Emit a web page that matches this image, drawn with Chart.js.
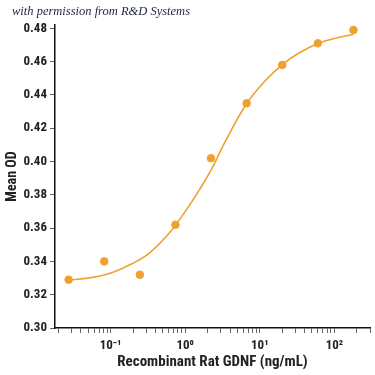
<!DOCTYPE html>
<html>
<head>
<meta charset="utf-8">
<script src="https://cdn.jsdelivr.net/npm/chart.js@4"></script>
<style>
  body { margin: 0; background: #fff; }
  #wrap { position: relative; width: 375px; height: 375px; }
  #credit {
    position: absolute; left: 12px; top: 4px;
    font: italic 12.5px "Liberation Serif", serif;
    color: #1c2440; white-space: nowrap;
  }
</style>
</head>
<body>
<div id="wrap">
  <canvas id="chart" width="375" height="375"></canvas>
  <div id="credit">with permission from R&amp;D Systems</div>
</div>
<script>
// measured points (ng/mL, mean OD)
const conc = [0.0274, 0.0823, 0.247, 0.741, 2.22, 6.67, 20, 60, 180];
const meanOD = [0.329, 0.340, 0.332, 0.362, 0.402, 0.435, 0.458, 0.471, 0.479];

// fitted curve
const fitConc = [0.0275, 0.0575, 0.106, 0.196, 0.331, 0.612, 1.03, 1.54, 2.22, 3.52, 6.71, 12.0, 20.3, 33.1, 61.2, 103, 179];
const fitOD = [0.3288, 0.3304, 0.3334, 0.3387, 0.345, 0.357, 0.3708, 0.3828, 0.3948, 0.4128, 0.435, 0.4488, 0.4584, 0.465, 0.471, 0.474, 0.4764];

// axis ticks
const yTicks = [0.30, 0.32, 0.34, 0.36, 0.38, 0.40, 0.42, 0.44, 0.46, 0.48];
const xMajor = [0.1, 1, 10, 100];
const xMajorLabels = ["10\u207B\u00B9", "10\u2070", "10\u00B9", "10\u00B2"];
const xDecades = [0.01, 0.1, 1, 10, 100];

const orange = "#F0A030";
const axisFont = "'Liberation Sans Narrow', 'Roboto Condensed', 'Liberation Sans', sans-serif";

var xTickValues = [];
xDecades.forEach(function (d) {
  for (var m = 1; m <= 9; m++) {
    var v = parseFloat((m * d).toPrecision(3));
    if (v >= 0.02 && v <= 300) xTickValues.push(v);
  }
});

var ctx = document.getElementById("chart").getContext("2d");
new Chart(ctx, {
  type: "scatter",
  data: {
    datasets: [
      {
        label: "fit",
        data: fitConc.map((c, i) => ({ x: c, y: fitOD[i] })),
        showLine: true,
        borderColor: orange,
        borderWidth: 1.6,
        pointRadius: 0,
        tension: 0.4,
        fill: false,
      },
      {
        label: "Mean OD",
        data: conc.map((c, i) => ({ x: c, y: meanOD[i] })),
        backgroundColor: orange,
        borderColor: orange,
        pointRadius: 3.8,
        showLine: false,
      },
    ],
  },
  options: {
    responsive: false,
    animation: false,
    layout: { padding: { top: 25, right: 3, left: 0, bottom: 0 } },
    plugins: {
      legend: { display: false },
      tooltip: { enabled: false },
    },
    scales: {
      x: {
        type: "logarithmic",
        min: 0.018,
        max: 300,
        afterBuildTicks: (s) => { s.ticks = xTickValues.map((v) => ({ value: v })); },
        afterFit: (s) => { s.height = 47; },
        grid: { drawOnChartArea: false, tickLength: 5, color: "#666", lineWidth: 1 },
        border: { display: true, color: "#111", width: 1.5 },
        ticks: {
          autoSkip: false,
          maxRotation: 0,
          padding: 5,
          color: "#222",
          font: { family: axisFont, size: 13, weight: "bold" },
          callback: function (value) {
            var i = xMajor.findIndex((m) => Math.abs(m - value) < m * 1e-6);
            return i >= 0 ? xMajorLabels[i] : "";
          },
        },
        title: {
          display: true,
          text: "Recombinant Rat GDNF (ng/mL)",
          color: "#222",
          font: { family: axisFont, size: 15, weight: "bold" },
          padding: { top: 0, bottom: 4 },
        },
      },
      y: {
        min: 0.30,
        max: 0.482,
        afterBuildTicks: (s) => { s.ticks = yTicks.map((v) => ({ value: v })); },
        afterFit: (s) => { s.width = 55; },
        grid: { drawOnChartArea: false, tickLength: 5, color: "#666", lineWidth: 1 },
        border: { display: true, color: "#111", width: 1.5 },
        ticks: {
          padding: 3,
          color: "#222",
          font: { family: axisFont, size: 13, weight: "bold" },
          callback: (v) => v.toFixed(2),
        },
        title: {
          display: true,
          text: "Mean OD",
          color: "#222",
          font: { family: axisFont, size: 14, weight: "bold" },
          padding: { top: 4, bottom: 0 },
        },
      },
    },
  },
});
</script>
</body>
</html>
